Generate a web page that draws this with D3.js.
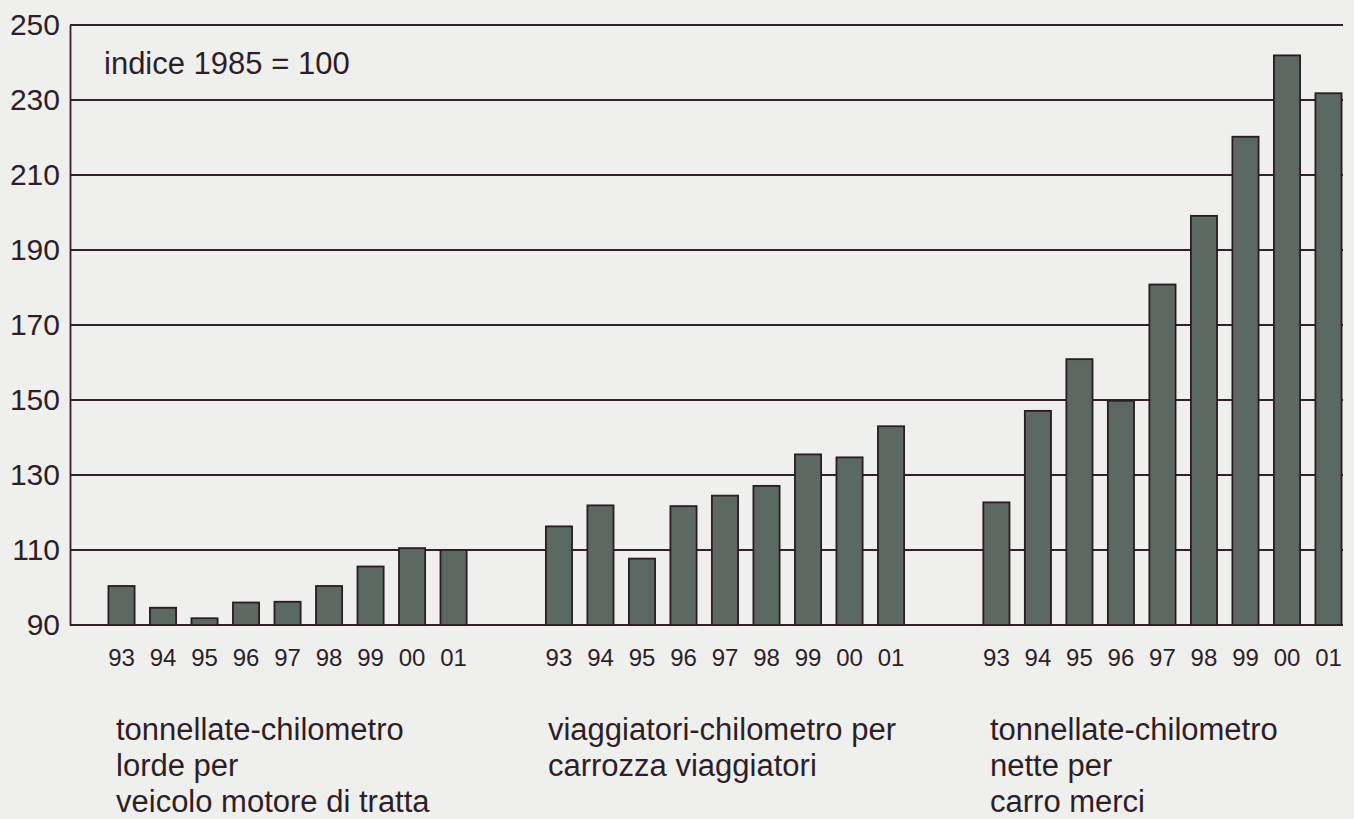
<!DOCTYPE html>
<html>
<head>
<meta charset="utf-8">
<script src="https://cdn.jsdelivr.net/npm/d3@7"></script>
<style>
  body { margin: 0; background: #efefed; }
  svg { display: block; font-family: "Liberation Sans", Arial, Helvetica, sans-serif; }
</style>
</head>
<body>
<script>
// data (index 1985 = 100)
var years = ["93", "94", "95", "96", "97", "98", "99", "00", "01"];
var groups = ["lorde", "viaggiatori", "merci"];
var lordeVals = [100.4, 94.6, 91.8, 96, 96.2, 100.4, 105.6, 110.5, 110];
var viaggiatoriVals = [116.3, 121.9, 107.7, 121.7, 124.5, 127.1, 135.5, 134.7, 143];
var merciVals = [122.7, 147.1, 160.9, 149.8, 180.8, 199.1, 220.2, 241.9, 231.8];
var groupLabels = [
    ["tonnellate-chilometro", "lorde per", "veicolo motore di tratta"],
    ["viaggiatori-chilometro per", "carrozza viaggiatori"],
    ["tonnellate-chilometro", "nette per", "carro merci"]
];
var yTicks = [90, 110, 130, 150, 170, 190, 210, 230, 250];
var note = "indice 1985 = 100";

var width = 1354, height = 819;
var axisX = 70, plotRight = 1343, plotTop = 25, plotBottom = 625;

var svg = d3.select("body")
    .append("svg")
    .attr("width", width)
    .attr("height", height);

var yscale = d3.scaleLinear()
    .domain([90, 250])
    .range([plotBottom, plotTop]);

// one band per group, then one band per year inside it
var gscale = d3.scaleBand()
    .domain(groups)
    .range([100.75, 1349.25])
    .paddingInner(0.146);

var xscale = d3.scaleBand()
    .domain(years)
    .range([0, gscale.bandwidth()])
    .paddingInner(0.37)
    .paddingOuter(0.185);

var ink = "#2e1e27";
var labelX = [116, 548, 990];

// gridlines
svg.append("g")
    .selectAll("line")
    .data(yTicks)
    .enter()
    .append("line")
    .attr("x1", axisX)
    .attr("x2", plotRight)
    .attr("y1", function(d){ return yscale(d); })
    .attr("y2", function(d){ return yscale(d); })
    .attr("stroke", "#34202d")
    .attr("stroke-width", 1.8);

// left axis
var yAxis = svg.append("g")
    .attr("transform", "translate(" + axisX + ",0)")
    .call(d3.axisLeft(yscale).tickValues(yTicks).tickSize(0).tickPadding(10));
yAxis.select(".domain")
    .attr("stroke", "#34202d")
    .attr("stroke-width", 1.8);
yAxis.selectAll("text")
    .attr("font-size", 30)
    .attr("fill", ink)
    .attr("font-family", "Liberation Sans, Arial, sans-serif");

svg.append("text")
    .attr("x", 104)
    .attr("y", 74)
    .attr("font-size", 31)
    .attr("fill", ink)
    .text(note);

var series = [lordeVals, viaggiatoriVals, merciVals];

groups.forEach(function(g, i){
    var data = years.map(function(y, j){ return {year: y, value: series[i][j]}; });
    var grp = svg.append("g")
        .attr("transform", "translate(" + gscale(g) + ",0)");

    grp.selectAll("rect")
        .data(data)
        .enter()
        .append("rect")
        .attr("x", function(d){ return xscale(d.year); })
        .attr("width", xscale.bandwidth())
        .attr("y", function(d){ return yscale(d.value); })
        .attr("height", function(d){ return yscale(90) - yscale(d.value); })
        .attr("fill", "#5c6862")
        .attr("stroke", "#2a1b24")
        .attr("stroke-width", 1.8);

    var xAxis = grp.append("g")
        .attr("transform", "translate(0," + plotBottom + ")")
        .call(d3.axisBottom(xscale).tickSize(0).tickPadding(24));
    xAxis.select(".domain").remove();
    xAxis.selectAll("text")
        .attr("font-size", 24)
        .attr("fill", ink)
        .attr("font-family", "Liberation Sans, Arial, sans-serif");

    grp.append("text")
        .attr("y", 740)
        .attr("font-size", 31)
        .attr("fill", ink)
        .selectAll("tspan")
        .data(groupLabels[i])
        .enter()
        .append("tspan")
        .attr("x", labelX[i] - gscale(g))
        .attr("dy", function(d, k){ return k === 0 ? 0 : 36; })
        .text(function(d){ return d; });
});
</script>
</body>
</html>
